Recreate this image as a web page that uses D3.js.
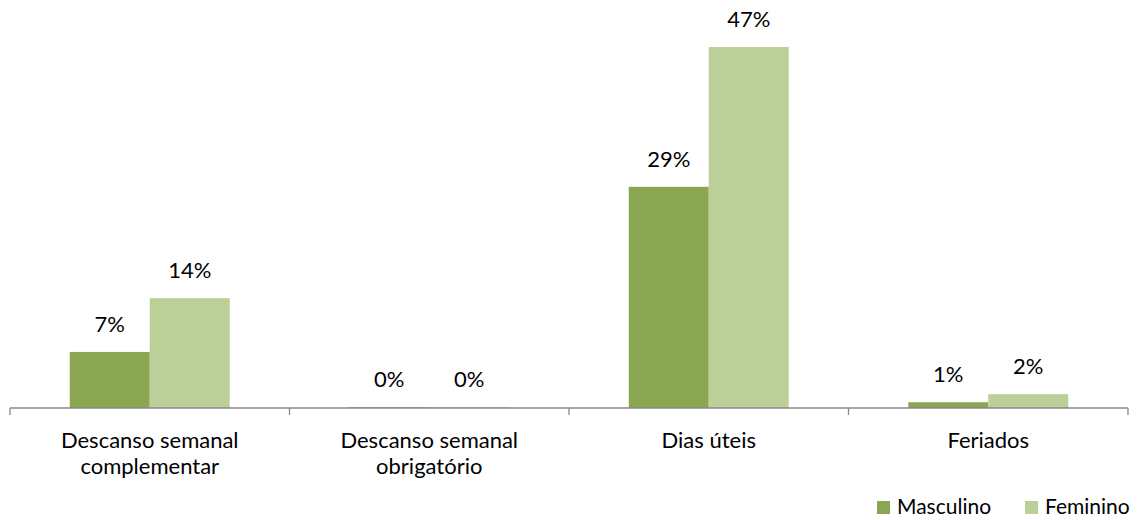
<!DOCTYPE html>
<html>
<head>
<meta charset="utf-8">
<script src="https://cdn.jsdelivr.net/npm/d3@7"></script>
<style>
  html, body { margin: 0; padding: 0; background: #fff; }
  svg { display: block; }
  text { font-family: Lato, "Open Sans", sans-serif; fill: #000; }
</style>
</head>
<body>
<svg id="chart" width="1138" height="520"></svg>
<script>
// Categories (line breaks mark where the axis label wraps)
const categories = [
  "Descanso semanal\ncomplementar",
  "Descanso semanal\nobrigatório",
  "Dias úteis",
  "Feriados"
];
const seriesNames = ["Masculino", "Feminino"];
const masculino = [0.073, 0.001, 0.288, 0.0075];
const feminino  = [0.143, 0.001, 0.470, 0.018];
const seriesColors = ["#8ba650", "#bbcf98"];

const svg = d3.select("#chart");

const plot = { left: 10, right: 1128, top: 24, bottom: 408 };

const x = d3.scaleBand()
  .domain(categories)
  .range([plot.left, plot.right])
  .paddingInner(0)
  .paddingOuter(0);

const xs = d3.scaleBand()
  .domain(seriesNames)
  .range([0, x.bandwidth()])
  .paddingInner(0)
  .paddingOuter(0.747);

const y = d3.scaleLinear()
  .domain([0, 0.5])
  .range([plot.bottom, plot.top]);

const rows = categories.map((c, i) => ({
  cat: c,
  vals: [
    { s: seriesNames[0], v: masculino[i], color: seriesColors[0] },
    { s: seriesNames[1], v: feminino[i], color: seriesColors[1] }
  ]
}));

const fmt = d3.format(".0%");

// Bars
const groups = svg.append("g").selectAll("g")
  .data(rows).join("g")
  .attr("transform", d => `translate(${x(d.cat)},0)`);

groups.selectAll("rect")
  .data(d => d.vals).join("rect")
  .attr("x", d => xs(d.s))
  .attr("width", xs.bandwidth())
  .attr("y", d => y(d.v))
  .attr("height", d => y(0) - y(d.v))
  .attr("fill", d => d.color);

// Value labels
groups.selectAll("text.val")
  .data(d => d.vals).join("text")
  .attr("class", "val")
  .attr("x", d => xs(d.s) + xs.bandwidth() / 2)
  .attr("y", d => y(d.v) - 20)
  .attr("text-anchor", "middle")
  .style("font-size", "22px")
  .text(d => fmt(d.v));

// Category axis with boundary ticks
const axisG = svg.append("g");
axisG.append("line")
  .attr("x1", plot.left).attr("x2", plot.right)
  .attr("y1", y(0)).attr("y2", y(0))
  .attr("stroke", "#888").attr("stroke-width", 1.3);

const edges = categories.map(c => x(c)).concat([x(categories[categories.length - 1]) + x.bandwidth()]);
axisG.selectAll("line.tick")
  .data(edges).join("line")
  .attr("class", "tick")
  .attr("x1", d => d).attr("x2", d => d)
  .attr("y1", y(0)).attr("y2", y(0) + 7)
  .attr("stroke", "#888").attr("stroke-width", 1.3);

const catLabels = axisG.selectAll("text.cat")
  .data(categories).join("text")
  .attr("class", "cat")
  .attr("text-anchor", "middle")
  .attr("x", d => x(d) + x.bandwidth() / 2)
  .attr("y", 448)
  .style("font-size", "22px");

catLabels.selectAll("tspan")
  .data(d => d.split("\n")).join("tspan")
  .attr("x", function () { return d3.select(this.parentNode).attr("x"); })
  .attr("dy", (d, i) => i === 0 ? 0 : 25.6)
  .text(d => d);

// Legend
const legendItems = [
  { name: seriesNames[0], color: seriesColors[0], x: 877 },
  { name: seriesNames[1], color: seriesColors[1], x: 1025 }
];
const legend = svg.append("g");
const li = legend.selectAll("g").data(legendItems).join("g")
  .attr("transform", d => `translate(${d.x},0)`);
li.append("rect")
  .attr("x", 0).attr("y", 501)
  .attr("width", 13).attr("height", 13)
  .attr("fill", d => d.color);
li.append("text")
  .attr("x", 20).attr("y", 514)
  .style("font-size", "21px")
  .text(d => d.name);
</script>
</body>
</html>
